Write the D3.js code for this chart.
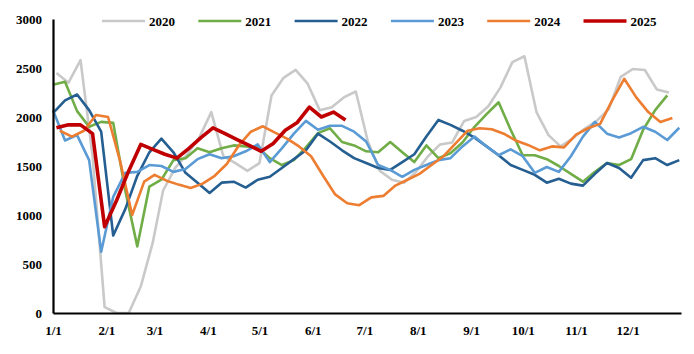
<!DOCTYPE html>
<html>
<head>
<meta charset="utf-8">
<script src="https://cdn.jsdelivr.net/npm/d3@7"></script>
<style>
	body { margin: 0; background: #fff; }
	svg text { font-family: "Liberation Serif", "Times New Roman", serif; font-weight: bold; font-size: 13px; fill: #000; }
</style>
</head>
<body>
<svg id="chart" width="694" height="354"></svg>
<script>
// weekly values, one array per year
const years = ["2020", "2021", "2022", "2023", "2024", "2025"];
const firstDates = ["2020-01-03", "2021-01-01", "2022-01-01", "2023-01-01", "2024-01-05", "2025-01-03"];

const v2020 = [2450, 2350, 2580, 1600, 60, 0, 0, 270, 720, 1250, 1480, 1620, 1790, 2050, 1600, 1530, 1450, 1530, 2220, 2400,
	2480, 2340, 2070, 2100, 2200, 2260, 1750, 1450, 1360, 1330, 1440, 1600, 1720, 1740, 1960, 2000, 2110, 2300, 2560, 2620,
	2050, 1815, 1700, 1780, 1880, 1960, 2080, 2410, 2490, 2480, 2280, 2250];
const v2021 = [2330, 2360, 2060, 1900, 1950, 1940, 1250, 680, 1290, 1360, 1560, 1580, 1680, 1640, 1680, 1710, 1700, 1690, 1580, 1510,
	1560, 1690, 1835, 1885, 1745, 1710, 1650, 1640, 1745, 1640, 1540, 1710, 1580, 1630, 1740, 1900, 2030, 2150, 1870, 1610,
	1610, 1570, 1500, 1420, 1340, 1440, 1530, 1510, 1570, 1870, 2070, 2220];
const v2022 = [2040, 2170, 2230, 2070, 1850, 790, 1060, 1400, 1640, 1780, 1640, 1430, 1330, 1225, 1330, 1340, 1280, 1360, 1390, 1480,
	1570, 1660, 1830, 1750, 1660, 1580, 1530, 1480, 1460, 1540, 1620, 1800, 1970, 1920, 1860, 1790, 1700, 1610, 1510, 1460,
	1410, 1330, 1370, 1320, 1300, 1420, 1530, 1480, 1380, 1560, 1580, 1510, 1560];
const v2023 = [2070, 1760, 1815, 1560, 625, 1185, 1430, 1440, 1510, 1500, 1440, 1470, 1570, 1620, 1580, 1600, 1650, 1720, 1540, 1680,
	1830, 1960, 1870, 1910, 1910, 1850, 1750, 1510, 1460, 1390, 1460, 1510, 1560, 1580, 1700, 1800, 1700, 1610, 1670, 1600,
	1430, 1490, 1440, 1600, 1800, 1950, 1830, 1790, 1835, 1900, 1850, 1765, 1890];
const v2024 = [1860, 1800, 1860, 2020, 2000, 1550, 1000, 1340, 1410, 1350, 1310, 1275, 1320, 1400, 1520, 1710, 1850, 1905, 1840, 1780,
	1700, 1600, 1400, 1210, 1120, 1100, 1180, 1195, 1300, 1360, 1420, 1510, 1600, 1730, 1860, 1885, 1875, 1830, 1760, 1715,
	1660, 1700, 1690, 1820, 1885, 1930, 2170, 2390, 2200, 2050, 1950, 1990];
const v2025 = [1890, 1920, 1920, 1830, 880, 1150, 1450, 1720, 1670, 1620, 1580, 1680, 1790, 1890, 1830, 1770, 1710, 1650, 1730, 1865,
	1945, 2100, 2000, 2050, 1970];

const yTicks = [0, 500, 1000, 1500, 2000, 2500, 3000];
const monthTicks = ["1/1", "2/1", "3/1", "4/1", "5/1", "6/1", "7/1", "8/1", "9/1", "10/1", "11/1", "12/1"];

const colors = ["#c9c9c9", "#70ad47", "#255e91", "#5b9bd5", "#ed7d31", "#c00000"];
const widths = [2.6, 2.6, 2.6, 2.6, 2.6, 3.6];

const allValues = [v2020, v2021, v2022, v2023, v2024, v2025];
const baseYear = 2021; // a non-leap year, every series is drawn on it
const parse = d3.timeParse("%Y-%m-%d");

// put each weekly point onto the same month/day of the base year
const series = years.map((y, k) => {
	const start = parse(firstDates[k]);
	return {
		name: y,
		color: colors[k],
		width: widths[k],
		points: allValues[k].map((v, i) => {
			const d = d3.timeDay.offset(start, 7 * i);
			return { date: new Date(baseYear, d.getMonth(), d.getDate()), value: v };
		}),
	};
});

const svg = d3.select("#chart");

const x = d3.scaleTime()
	.domain([new Date(baseYear, 0, 1), new Date(baseYear + 1, 0, 1)])
	.range([53, 681]);

const y = d3.scaleLinear()
	.domain([0, 3000])
	.range([313, 19]);

const line = d3.line()
	.x(d => x(d.date))
	.y(d => y(d.value));

svg.append("g")
	.selectAll("path")
	.data(series)
	.enter()
	.append("path")
	.attr("d", d => line(d.points))
	.attr("fill", "none")
	.attr("stroke", d => d.color)
	.attr("stroke-width", d => d.width)
	.attr("stroke-linejoin", "round");

// axes: heavy black lines, no tick marks
const monthDates = monthTicks.map(t => {
	const [m, d] = t.split("/").map(Number);
	return new Date(baseYear, m - 1, d);
});

const xAxis = svg.append("g")
	.attr("transform", `translate(0,${y(0)})`)
	.call(d3.axisBottom(x)
		.tickValues(monthDates)
		.tickFormat((d, i) => monthTicks[i])
		.tickSize(0)
		.tickPadding(13));

const yAxis = svg.append("g")
	.attr("transform", `translate(${x.range()[0]},0)`)
	.call(d3.axisLeft(y)
		.tickValues(yTicks)
		.tickFormat(d3.format("d"))
		.tickSize(0)
		.tickPadding(11));

[xAxis, yAxis].forEach(g => {
	g.select(".domain").attr("stroke", "#000").attr("stroke-width", 2.2);
	g.selectAll("text").attr("font-family", null).attr("font-size", null);
});
yAxis.selectAll("text").attr("dy", "0.35em");

// legend across the top
const legend = svg.append("g")
	.selectAll("g")
	.data(series)
	.enter()
	.append("g")
	.attr("transform", (d, i) => `translate(${102 + i * 96.3},21)`);

legend.append("line")
	.attr("x1", 0)
	.attr("x2", 43)
	.attr("stroke", d => d.color)
	.attr("stroke-width", d => d.width);

legend.append("text")
	.attr("x", 47)
	.attr("dy", "0.35em")
	.text(d => d.name);
</script>
</body>
</html>
